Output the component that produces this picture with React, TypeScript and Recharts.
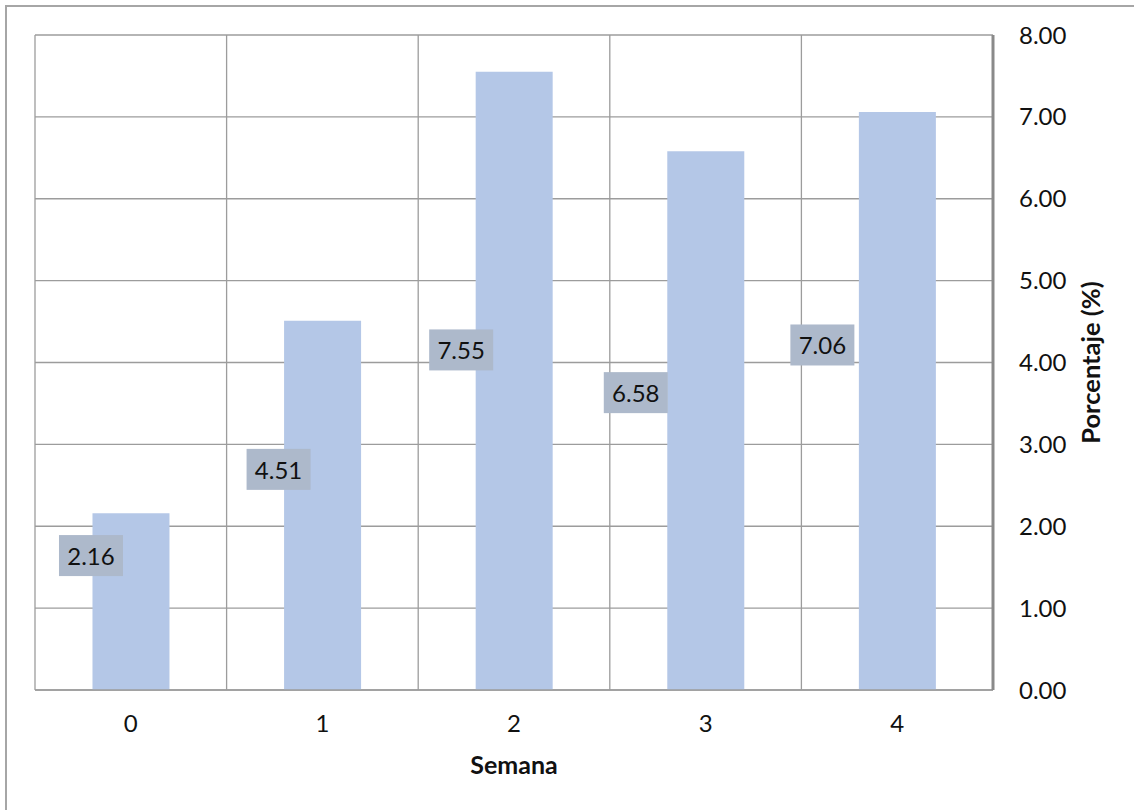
import React from "react";
import { BarChart, Bar, XAxis, YAxis, CartesianGrid, LabelList } from "recharts";

const weeks = ["0", "1", "2", "3", "4"];
const percentages = [2.16, 4.51, 7.55, 6.58, 7.06];
const yTicks = [0, 1, 2, 3, 4, 5, 6, 7, 8];

// label box offsets (px) relative to each bar's centre — styling only
const labelDx = [-40, -44, -53, -70, -75];
const labelDy = [-46, -36, -31, -28, -56];

const data = weeks.map((w, i) => ({ week: w, value: percentages[i] }));

const FONT = "Lato, 'Open Sans', sans-serif";

const ValueLabel = (props: any) => {
  const { x, y, width, height, value, index } = props;
  const cx = x + width / 2 + labelDx[index];
  const cy = y + height / 2 + labelDy[index];
  const w = 64;
  const h = 41;
  return (
    <g>
      <rect x={cx - w / 2} y={cy - h / 2} width={w} height={h} fill="#ADB9CB" />
      <text
        x={cx}
        y={cy}
        textAnchor="middle"
        dominantBaseline="central"
        fontFamily={FONT}
        fontSize={24}
        fill="#111"
      >
        {Number(value).toFixed(2)}
      </text>
    </g>
  );
};

export default function App() {
  return (
    <div style={{ position: "absolute", left: 0, top: 0, width: 1134, height: 810, background: "#fff", overflow: "hidden" }}>
      <div
        style={{
          position: "absolute",
          left: 5,
          top: 5,
          width: 1129,
          height: 805,
          boxSizing: "border-box",
          borderLeft: "2px solid #a6a6a6",
          borderTop: "2px solid #a6a6a6",
        }}
      />
      <div style={{ position: "absolute", left: 0, top: 0 }}>
        <BarChart
          width={1134}
          height={810}
          data={data}
          margin={{ top: 35, right: 41, bottom: 20, left: 35 }}
          barCategoryGap="30%"
        >
          <CartesianGrid
            stroke="#9c9c9c"
            strokeWidth={1.3}
            verticalCoordinatesGenerator={({ offset }: any) =>
              [0, 1, 2, 3, 4, 5].map((i) => offset.left + (i * offset.width) / 5)
            }
          />
          <XAxis
            dataKey="week"
            height={100}
            axisLine={{ stroke: "#9c9c9c", strokeWidth: 1.5 }}
            tickLine={false}
            tickSize={0}
            tickMargin={25}
            tick={{ fontFamily: FONT, fontSize: 24, fill: "#111" }}
            label={{
              value: "Semana",
              position: "insideTop",
              offset: 66,
              style: { fontFamily: FONT, fontSize: 25, fontWeight: 700, fill: "#111" },
            }}
          />
          <YAxis
            orientation="right"
            width={100}
            domain={[0, 8]}
            ticks={yTicks}
            interval={0}
            tickFormatter={(v: number) => v.toFixed(2)}
            axisLine={{ stroke: "#8a8a8a", strokeWidth: 3 }}
            tickLine={false}
            tickSize={0}
            tickMargin={26}
            tick={{ fontFamily: FONT, fontSize: 24, fill: "#111", textAnchor: "start" }}
            label={{
              value: "Porcentaje (%)",
              angle: -90,
              position: "insideRight",
              offset: 2,
              style: { fontFamily: FONT, fontSize: 25.5, fontWeight: 700, fill: "#111", textAnchor: "middle" },
            }}
          />
          <Bar dataKey="value" fill="#B4C7E7" isAnimationActive={false}>
            <LabelList dataKey="value" content={<ValueLabel />} />
          </Bar>
        </BarChart>
      </div>
    </div>
  );
}
